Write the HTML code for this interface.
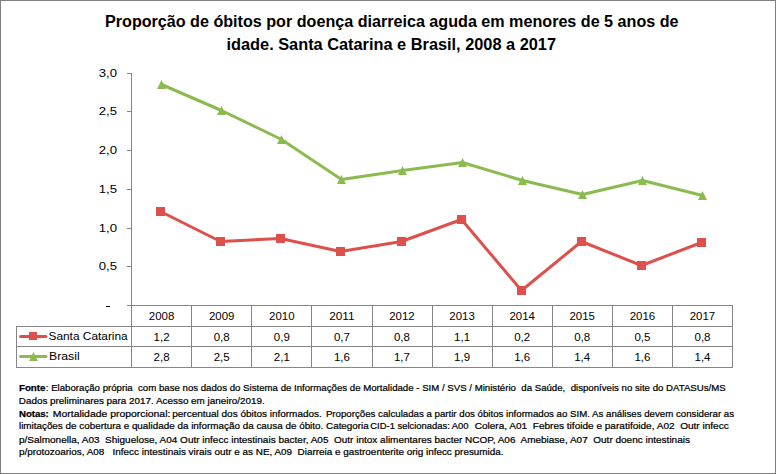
<!DOCTYPE html>
<html><head><meta charset="utf-8"><style>
html,body{margin:0;padding:0;background:#fff;}
svg{display:block;font-family:"Liberation Sans",sans-serif;}
text{fill:#000;}
text.n{stroke:#000;stroke-width:0.22px;}
text.b{stroke:#000;stroke-width:0.25px;}
</style></head><body>
<svg width="776" height="474" viewBox="0 0 776 474">
<rect x="0" y="0" width="776" height="474" fill="#fff"/>
<rect x="0.5" y="0.5" width="775" height="473" fill="none" stroke="#808080" stroke-width="1"/>
<text x="105" y="26.7" font-size="16" text-anchor="start" font-weight="bold" textLength="573.5" lengthAdjust="spacingAndGlyphs" xml:space="preserve" >Proporção de óbitos por doença diarreica aguda em menores de 5 anos de</text>
<text x="226.5" y="49.5" font-size="16" text-anchor="start" font-weight="bold" textLength="329.5" lengthAdjust="spacingAndGlyphs" xml:space="preserve" >idade. Santa Catarina e Brasil, 2008 a 2017</text>
<path d="M131.5 73 V368" stroke="#868686" stroke-width="1" fill="none"/>
<path d="M127 305.5 H131" stroke="#868686" stroke-width="1"/>
<rect x="106" y="306" width="4" height="1" fill="#000"/>
<path d="M127 266.5 H131" stroke="#868686" stroke-width="1"/>
<text x="117" y="270.3" font-size="11" text-anchor="end" font-weight="normal" textLength="18.3" lengthAdjust="spacingAndGlyphs" xml:space="preserve" >0,5</text>
<path d="M127 228.5 H131" stroke="#868686" stroke-width="1"/>
<text x="117" y="232.3" font-size="11" text-anchor="end" font-weight="normal" textLength="18.3" lengthAdjust="spacingAndGlyphs" xml:space="preserve" >1,0</text>
<path d="M127 189.5 H131" stroke="#868686" stroke-width="1"/>
<text x="117" y="193.3" font-size="11" text-anchor="end" font-weight="normal" textLength="18.3" lengthAdjust="spacingAndGlyphs" xml:space="preserve" >1,5</text>
<path d="M127 150.5 H131" stroke="#868686" stroke-width="1"/>
<text x="117" y="154.3" font-size="11" text-anchor="end" font-weight="normal" textLength="18.3" lengthAdjust="spacingAndGlyphs" xml:space="preserve" >2,0</text>
<path d="M127 111.5 H131" stroke="#868686" stroke-width="1"/>
<text x="117" y="115.3" font-size="11" text-anchor="end" font-weight="normal" textLength="18.3" lengthAdjust="spacingAndGlyphs" xml:space="preserve" >2,5</text>
<path d="M127 73.5 H131" stroke="#868686" stroke-width="1"/>
<text x="117" y="77.3" font-size="11" text-anchor="end" font-weight="normal" textLength="18.3" lengthAdjust="spacingAndGlyphs" xml:space="preserve" >3,0</text>
<path d="M127 305.5 H733" stroke="#868686" stroke-width="1"/>
<path d="M191.5 305 V368" stroke="#868686" stroke-width="1"/>
<path d="M251.5 305 V368" stroke="#868686" stroke-width="1"/>
<path d="M311.5 305 V368" stroke="#868686" stroke-width="1"/>
<path d="M372.5 305 V368" stroke="#868686" stroke-width="1"/>
<path d="M432.5 305 V368" stroke="#868686" stroke-width="1"/>
<path d="M492.5 305 V368" stroke="#868686" stroke-width="1"/>
<path d="M552.5 305 V368" stroke="#868686" stroke-width="1"/>
<path d="M612.5 305 V368" stroke="#868686" stroke-width="1"/>
<path d="M672.5 305 V368" stroke="#868686" stroke-width="1"/>
<path d="M732.5 305 V368" stroke="#868686" stroke-width="1"/>
<path d="M16.5 326.5 H733 M16.5 346.5 H733 M16.5 367.5 H733 M16.5 326 V368" stroke="#868686" stroke-width="1"/>
<text x="161.6" y="319.7" font-size="11" text-anchor="middle" font-weight="normal" textLength="25.5" lengthAdjust="spacingAndGlyphs" xml:space="preserve" >2008</text>
<text x="161.6" y="340.9" font-size="11" text-anchor="middle" font-weight="normal" textLength="16" lengthAdjust="spacingAndGlyphs" xml:space="preserve" >1,2</text>
<text x="161.6" y="360.6" font-size="11" text-anchor="middle" font-weight="normal" textLength="16" lengthAdjust="spacingAndGlyphs" xml:space="preserve" >2,8</text>
<text x="221.7" y="319.7" font-size="11" text-anchor="middle" font-weight="normal" textLength="25.5" lengthAdjust="spacingAndGlyphs" xml:space="preserve" >2009</text>
<text x="221.7" y="340.9" font-size="11" text-anchor="middle" font-weight="normal" textLength="16" lengthAdjust="spacingAndGlyphs" xml:space="preserve" >0,8</text>
<text x="221.7" y="360.6" font-size="11" text-anchor="middle" font-weight="normal" textLength="16" lengthAdjust="spacingAndGlyphs" xml:space="preserve" >2,5</text>
<text x="281.8" y="319.7" font-size="11" text-anchor="middle" font-weight="normal" textLength="25.5" lengthAdjust="spacingAndGlyphs" xml:space="preserve" >2010</text>
<text x="281.8" y="340.9" font-size="11" text-anchor="middle" font-weight="normal" textLength="16" lengthAdjust="spacingAndGlyphs" xml:space="preserve" >0,9</text>
<text x="281.8" y="360.6" font-size="11" text-anchor="middle" font-weight="normal" textLength="16" lengthAdjust="spacingAndGlyphs" xml:space="preserve" >2,1</text>
<text x="341.9" y="319.7" font-size="11" text-anchor="middle" font-weight="normal" textLength="25.5" lengthAdjust="spacingAndGlyphs" xml:space="preserve" >2011</text>
<text x="341.9" y="340.9" font-size="11" text-anchor="middle" font-weight="normal" textLength="16" lengthAdjust="spacingAndGlyphs" xml:space="preserve" >0,7</text>
<text x="341.9" y="360.6" font-size="11" text-anchor="middle" font-weight="normal" textLength="16" lengthAdjust="spacingAndGlyphs" xml:space="preserve" >1,6</text>
<text x="401.9" y="319.7" font-size="11" text-anchor="middle" font-weight="normal" textLength="25.5" lengthAdjust="spacingAndGlyphs" xml:space="preserve" >2012</text>
<text x="401.9" y="340.9" font-size="11" text-anchor="middle" font-weight="normal" textLength="16" lengthAdjust="spacingAndGlyphs" xml:space="preserve" >0,8</text>
<text x="401.9" y="360.6" font-size="11" text-anchor="middle" font-weight="normal" textLength="16" lengthAdjust="spacingAndGlyphs" xml:space="preserve" >1,7</text>
<text x="462.1" y="319.7" font-size="11" text-anchor="middle" font-weight="normal" textLength="25.5" lengthAdjust="spacingAndGlyphs" xml:space="preserve" >2013</text>
<text x="462.1" y="340.9" font-size="11" text-anchor="middle" font-weight="normal" textLength="16" lengthAdjust="spacingAndGlyphs" xml:space="preserve" >1,1</text>
<text x="462.1" y="360.6" font-size="11" text-anchor="middle" font-weight="normal" textLength="16" lengthAdjust="spacingAndGlyphs" xml:space="preserve" >1,9</text>
<text x="522.2" y="319.7" font-size="11" text-anchor="middle" font-weight="normal" textLength="25.5" lengthAdjust="spacingAndGlyphs" xml:space="preserve" >2014</text>
<text x="522.2" y="340.9" font-size="11" text-anchor="middle" font-weight="normal" textLength="16" lengthAdjust="spacingAndGlyphs" xml:space="preserve" >0,2</text>
<text x="522.2" y="360.6" font-size="11" text-anchor="middle" font-weight="normal" textLength="16" lengthAdjust="spacingAndGlyphs" xml:space="preserve" >1,6</text>
<text x="582.2" y="319.7" font-size="11" text-anchor="middle" font-weight="normal" textLength="25.5" lengthAdjust="spacingAndGlyphs" xml:space="preserve" >2015</text>
<text x="582.2" y="340.9" font-size="11" text-anchor="middle" font-weight="normal" textLength="16" lengthAdjust="spacingAndGlyphs" xml:space="preserve" >0,8</text>
<text x="582.2" y="360.6" font-size="11" text-anchor="middle" font-weight="normal" textLength="16" lengthAdjust="spacingAndGlyphs" xml:space="preserve" >1,4</text>
<text x="642.4" y="319.7" font-size="11" text-anchor="middle" font-weight="normal" textLength="25.5" lengthAdjust="spacingAndGlyphs" xml:space="preserve" >2016</text>
<text x="642.4" y="340.9" font-size="11" text-anchor="middle" font-weight="normal" textLength="16" lengthAdjust="spacingAndGlyphs" xml:space="preserve" >0,5</text>
<text x="642.4" y="360.6" font-size="11" text-anchor="middle" font-weight="normal" textLength="16" lengthAdjust="spacingAndGlyphs" xml:space="preserve" >1,6</text>
<text x="702.5" y="319.7" font-size="11" text-anchor="middle" font-weight="normal" textLength="25.5" lengthAdjust="spacingAndGlyphs" xml:space="preserve" >2017</text>
<text x="702.5" y="340.9" font-size="11" text-anchor="middle" font-weight="normal" textLength="16" lengthAdjust="spacingAndGlyphs" xml:space="preserve" >0,8</text>
<text x="702.5" y="360.6" font-size="11" text-anchor="middle" font-weight="normal" textLength="16" lengthAdjust="spacingAndGlyphs" xml:space="preserve" >1,4</text>
<text x="48.5" y="339.8" font-size="11" text-anchor="start" font-weight="normal" textLength="79.2" lengthAdjust="spacingAndGlyphs" xml:space="preserve" >Santa Catarina</text>
<text x="49" y="360.4" font-size="11" text-anchor="start" font-weight="normal" textLength="30.7" lengthAdjust="spacingAndGlyphs" xml:space="preserve" >Brasil</text>
<path d="M20.5 336.5 H46" stroke="#DE504C" stroke-width="3" stroke-linecap="round"/>
<rect x="29" y="332" width="8" height="8" fill="#DE504C"/>
<path d="M20.5 356.5 H46" stroke="#8BBA4E" stroke-width="3" stroke-linecap="round"/>
<path d="M33.5 352 L38 361 L29 361 Z" fill="#8BBA4E"/>
<polyline points="160.5,211.5 220.5,241.5 280.5,238.5 340.5,251.5 401.5,241.5 461.5,219.5 521.5,290.5 581.5,241.5 641.5,265.5 701.5,242.5" fill="none" stroke="#DE504C" stroke-width="3" stroke-linejoin="round" stroke-linecap="round"/>
<rect x="156.0" y="207" width="9" height="9" fill="#DE504C"/>
<rect x="216.0" y="237" width="9" height="9" fill="#DE504C"/>
<rect x="276.0" y="234" width="9" height="9" fill="#DE504C"/>
<rect x="336.0" y="247" width="9" height="9" fill="#DE504C"/>
<rect x="397.0" y="237" width="9" height="9" fill="#DE504C"/>
<rect x="457.0" y="215" width="9" height="9" fill="#DE504C"/>
<rect x="517.0" y="286" width="9" height="9" fill="#DE504C"/>
<rect x="577.0" y="237" width="9" height="9" fill="#DE504C"/>
<rect x="637.0" y="261" width="9" height="9" fill="#DE504C"/>
<rect x="697.0" y="238" width="9" height="9" fill="#DE504C"/>
<polyline points="161.5,84.5 221.5,110.5 281.5,139.5 341.5,179.5 402.5,170.5 462.5,162.5 522.5,180.5 582.5,194.5 642.5,180.5 702.5,195.5" fill="none" stroke="#8BBA4E" stroke-width="3" stroke-linejoin="round" stroke-linecap="round"/>
<path d="M161.5 80 L166.0 89 L157.0 89 Z" fill="#8BBA4E"/>
<path d="M221.5 106 L226.0 115 L217.0 115 Z" fill="#8BBA4E"/>
<path d="M281.5 135 L286.0 144 L277.0 144 Z" fill="#8BBA4E"/>
<path d="M341.5 175 L346.0 184 L337.0 184 Z" fill="#8BBA4E"/>
<path d="M402.5 166 L407.0 175 L398.0 175 Z" fill="#8BBA4E"/>
<path d="M462.5 158 L467.0 167 L458.0 167 Z" fill="#8BBA4E"/>
<path d="M522.5 176 L527.0 185 L518.0 185 Z" fill="#8BBA4E"/>
<path d="M582.5 190 L587.0 199 L578.0 199 Z" fill="#8BBA4E"/>
<path d="M642.5 176 L647.0 185 L638.0 185 Z" fill="#8BBA4E"/>
<path d="M702.5 191 L707.0 200 L698.0 200 Z" fill="#8BBA4E"/>
<text class="b" x="18.95" y="390.7" font-size="9" text-anchor="start" font-weight="bold" textLength="26.59" lengthAdjust="spacingAndGlyphs" xml:space="preserve" >Fonte</text>
<text class="n" x="45.82" y="390.7" font-size="9" text-anchor="start" font-weight="normal" textLength="679.92" lengthAdjust="spacingAndGlyphs" xml:space="preserve" >: Elaboração própria  com base nos dados do Sistema de Informações de Mortalidade - SIM / SVS / Ministério  da Saúde,  disponíveis no site do DATASUs/MS</text>
<text class="n" x="18.79" y="403.6" font-size="9" text-anchor="start" font-weight="normal" textLength="245.91" lengthAdjust="spacingAndGlyphs" xml:space="preserve" >Dados preliminares para 2017. Acesso em janeiro/2019.</text>
<text class="b" x="18.96" y="416.5" font-size="9" text-anchor="start" font-weight="bold" textLength="29.87" lengthAdjust="spacingAndGlyphs" xml:space="preserve" >Notas:</text>
<text class="n" x="52.85" y="416.5" font-size="9" text-anchor="start" font-weight="normal" textLength="117.51" lengthAdjust="spacingAndGlyphs" xml:space="preserve" >Mortalidade proporcional:</text>
<text class="n" x="172.26" y="416.5" font-size="9" text-anchor="start" font-weight="normal" textLength="149.55" lengthAdjust="spacingAndGlyphs" xml:space="preserve" >percentual dos óbitos informados.</text>
<text class="n" x="325.91" y="416.5" font-size="9" text-anchor="start" font-weight="normal" textLength="408.14" lengthAdjust="spacingAndGlyphs" xml:space="preserve" >Proporções calculadas a partir dos óbitos informados ao SIM. As análises devem considerar as</text>
<text class="n" x="18.94" y="429.4" font-size="9" text-anchor="start" font-weight="normal" textLength="349.86" lengthAdjust="spacingAndGlyphs" xml:space="preserve" >limitações de cobertura e qualidade da informação da causa de óbito. Categoria</text>
<text class="n" x="370.33" y="429.4" font-size="9" text-anchor="start" font-weight="normal" textLength="98.24" lengthAdjust="spacingAndGlyphs" xml:space="preserve" >CID-1 selcionadas: A00</text>
<text class="n" x="474.69" y="429.4" font-size="9" text-anchor="start" font-weight="normal" textLength="254.07" lengthAdjust="spacingAndGlyphs" xml:space="preserve" >Colera, A01  Febres tifoide e paratifoide, A02  Outr infecc</text>
<text class="n" x="18.96" y="442.5" font-size="9" text-anchor="start" font-weight="normal" textLength="671.0" lengthAdjust="spacingAndGlyphs" xml:space="preserve" >p/Salmonella, A03  Shiguelose, A04 Outr infecc intestinais bacter, A05  Outr intox alimentares bacter NCOP, A06  Amebiase, A07  Outr doenc intestinais</text>
<text class="n" x="18.96" y="455.1" font-size="9" text-anchor="start" font-weight="normal" textLength="484.64" lengthAdjust="spacingAndGlyphs" xml:space="preserve" >p/protozoarios, A08   Infecc intestinais virais outr e as NE, A09  Diarreia e gastroenterite orig infecc presumida.</text>
</svg>
</body></html>
